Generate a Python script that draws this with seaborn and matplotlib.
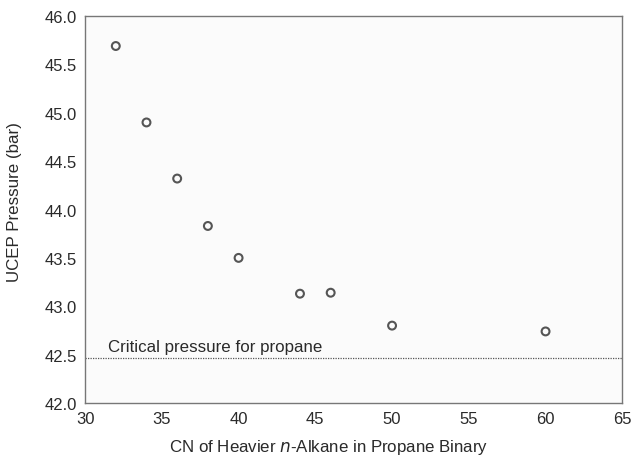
import matplotlib
matplotlib.use("Agg")
import matplotlib.pyplot as plt
import seaborn as sns
import pandas as pd

carbon_number = [32, 34, 36, 38, 40, 44, 46, 50, 60]
ucep_pressure = [45.69, 44.90, 44.32, 43.83, 43.50, 43.13, 43.14, 42.80, 42.74]
propane_pc = 42.47
x_ticks = [30, 35, 40, 45, 50, 55, 60, 65]
y_ticks = [42.0, 42.5, 43.0, 43.5, 44.0, 44.5, 45.0, 45.5, 46.0]

sns.set_style("white")
plt.rcParams['font.family'] = ['Liberation Sans', 'DejaVu Sans']

df = pd.DataFrame({"CN": carbon_number, "P": ucep_pressure})

fig = plt.figure(figsize=(6.35, 4.6), dpi=100)
ax = fig.add_axes([0.134, 0.1217, 0.846, 0.8413])
ax.set_facecolor("#fbfbfb")

sns.scatterplot(data=df, x="CN", y="P", ax=ax, marker="o", s=32,
                facecolor="none", edgecolor="#555555", linewidth=1.5, zorder=3)

ax.axhline(propane_pc, color="#555555", linestyle=(0, (1, 1)), linewidth=0.9)
ax.text(31.5, propane_pc + 0.04, "Critical pressure for propane",
        fontsize=12.2, color="#2a2a2a", va="bottom", ha="left")

ax.set_xlim(30, 65)
ax.set_ylim(42.0, 46.0)
ax.set_xticks(x_ticks)
ax.set_yticks(y_ticks)
ax.set_yticklabels([f"{v:.1f}" for v in y_ticks])
ax.tick_params(axis="both", direction="in", length=4, width=0.8, color="#666666",
               labelsize=12, labelcolor="#2a2a2a", pad=6)

for s in ax.spines.values():
    s.set_visible(True)
    s.set_color("#777777")
    s.set_linewidth(1.0)

ax.set_xlabel("CN of Heavier $\\it{n}$-Alkane in Propane Binary", fontsize=12.2,
              color="#2a2a2a")
ax.set_ylabel("UCEP Pressure (bar)", fontsize=12.2, color="#2a2a2a")
ax.xaxis.set_label_coords(0.453, -0.088)
ax.yaxis.set_label_coords(-0.117, 0.522)

fig.savefig("out.png", dpi=100, facecolor="white")
